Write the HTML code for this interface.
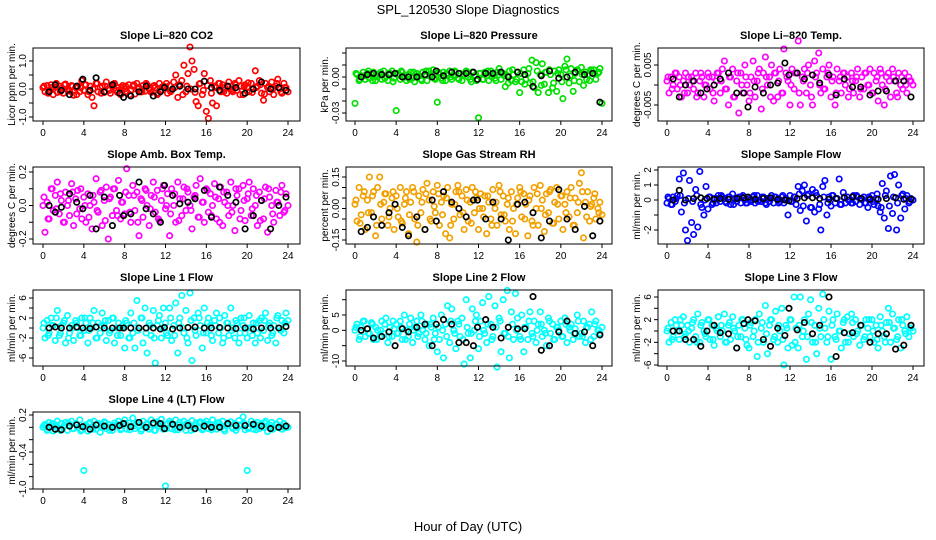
<!DOCTYPE html>
<html><head><meta charset="utf-8"><style>
html,body{margin:0;padding:0;background:#fff;}
svg{display:block;font-family:"Liberation Sans",sans-serif;}
</style></head><body>
<svg id="chart" width="936" height="540" viewBox="0 0 936 540" xmlns="http://www.w3.org/2000/svg">
<rect width="936" height="540" fill="#fff"/>
<text x="468" y="14" text-anchor="middle" font-size="13">SPL_120530  Slope Diagnostics</text>
<text x="468" y="531" text-anchor="middle" font-size="13">Hour of Day (UTC)</text>
</svg>
<script>
const xTicks=[0,4,8,12,16,20,24];
const times=[0,0.2,0.4,0.6,0.8,1,1.2,1.4,1.6,1.8,2,2.2,2.4,2.6,2.8,3,3.2,3.4,3.6,3.8,4,4.2,4.4,4.6,4.8,5,5.2,5.4,5.6,5.8,6,6.2,6.4,6.6,6.8,7,7.2,7.4,7.6,7.8,8,8.2,8.4,8.6,8.8,9,9.2,9.4,9.6,9.8,10,10.2,10.4,10.6,10.8,11,11.2,11.4,11.6,11.8,12,12.2,12.4,12.6,12.8,13,13.2,13.4,13.6,13.8,14,14.2,14.4,14.6,14.8,15,15.2,15.4,15.6,15.8,16,16.2,16.4,16.6,16.8,17,17.2,17.4,17.6,17.8,18,18.2,18.4,18.6,18.8,19,19.2,19.4,19.6,19.8,20,20.2,20.4,20.6,20.8,21,21.2,21.4,21.6,21.8,22,22.2,22.4,22.6,22.8,23,23.2,23.4,23.6,23.8,24];
const times2=[0.1,0.5,0.9,1.3,1.7,2.1,2.5,2.9,3.3,3.7,4.1,4.5,4.9,5.3,5.7,6.1,6.5,6.9,7.3,7.7,8.1,8.5,8.9,9.3,9.7,10.1,10.5,10.9,11.3,11.7,12.1,12.5,12.9,13.3,13.7,14.1,14.5,14.9,15.3,15.7,16.1,16.5,16.9,17.3,17.7,18.1,18.5,18.9,19.3,19.7,20.1,20.5,20.9,21.3,21.7,22.1,22.5,22.9,23.3,23.7];
const blackTimes=[0.6,1.2,1.8,2.6,3.3,3.9,4.6,5.2,6.0,6.8,7.5,7.9,8.6,9.4,10.1,10.8,11.5,11.9,12.7,13.4,14.2,14.9,15.8,16.5,17.3,18.1,18.9,19.8,20.6,21.4,22.3,23.1,23.8];

const co2=[0.05,-0.1,0.12,-0.05,0.15,-0.2,0.08,-0.12,0.1,0.02,-0.15,0.18,0.0,-0.08,0.12,-0.22,0.05,0.1,-0.1,0.3,-0.05,0.15,-0.2,0.1,-0.3,-0.6,0.2,-0.1,0.05,0.1,-0.12,0.25,0.0,-0.15,0.1,0.2,-0.05,0.05,-0.2,0.12,0.0,-0.1,0.15,-0.05,0.1,-0.18,0.2,0.05,-0.1,0.12,-0.08,0.15,0.0,-0.12,0.1,0.05,-0.2,0.2,-0.05,0.1,0.08,-0.15,0.12,-0.05,0.25,0.5,-0.3,0.15,0.3,0.85,-0.1,0.55,1.5,1.0,0.7,-0.45,-0.6,0.2,-0.2,0.55,-0.8,-1.05,0.3,-0.5,0.1,-0.6,0.2,-0.1,0.15,0.05,-0.15,0.25,0.0,-0.1,0.2,-0.05,0.3,0.1,-0.2,0.15,0.05,-0.1,0.2,0.0,0.65,0.1,0.3,-0.15,-0.4,0.2,0.05,-0.1,0.25,-0.2,0.1,0.35,0.0,-0.15,0.2,0.05,-0.1];
const co2B=[0.1,-0.15,0.05,0.2,-0.1,0.15,-0.05,0.1,-0.2,0.05,0.15,-0.1,0.0,0.2,-0.15,0.1,-0.05,0.18,-0.12,0.05,0.1,-0.2,0.15,0.0,-0.1,0.2,-0.05,0.12,-0.15,0.08,0.2,-0.1,0.05,0.15,-0.2,0.1,0.0,-0.12,0.18,-0.05,0.12,-0.15,0.05,0.2,-0.1,0.1,-0.05,0.15,-0.2,0.08,0.22,-0.12,0.05,0.15,-0.18,0.1,0.0,0.2,-0.1,0.05];
const co2Black=[-0.1,0.15,-0.05,-0.2,0.1,0.35,-0.05,0.4,-0.1,0.15,-0.15,-0.3,-0.25,-0.1,0.1,-0.25,-0.1,0.05,0.0,0.1,0.0,0.0,0.28,0.05,-0.05,0.1,0.05,-0.15,0.0,0.25,0.0,0.05,-0.05];

const pressure=[-0.022,0.002,-0.003,0.001,0.004,-0.002,0.003,-0.001,0.002,0.004,-0.003,0.0,0.002,-0.002,0.005,0.001,-0.003,0.003,0.005,-0.001,-0.028,0.003,-0.002,0.004,0.0,-0.003,0.002,0.004,-0.001,-0.004,0.003,0.001,-0.002,0.004,0.002,-0.003,0.005,0.0,0.006,-0.002,-0.021,0.003,-0.001,0.004,-0.003,0.002,0.005,-0.002,0.001,0.004,-0.001,0.003,-0.003,0.002,0.005,0.0,-0.002,0.004,0.001,-0.003,-0.034,0.003,-0.002,0.004,0.001,-0.003,0.005,0.002,-0.001,0.004,0.007,-0.002,0.003,-0.008,0.001,0.005,-0.003,0.002,-0.004,0.004,-0.013,-0.004,0.006,-0.002,0.003,-0.005,0.014,-0.009,0.012,-0.013,0.002,0.011,-0.006,0.004,-0.013,0.002,-0.009,0.005,-0.012,0.006,0.002,-0.018,0.009,0.015,-0.005,0.007,-0.012,0.003,0.006,-0.004,0.008,-0.007,0.004,0.002,-0.003,0.005,0.006,-0.002,0.003,0.007,-0.022];
const pressureB=[0.003,-0.002,0.001,0.005,-0.003,0.002,0.004,-0.001,0.003,-0.004,0.002,0.005,0.0,-0.002,0.004,0.001,-0.003,0.005,0.002,-0.001,0.004,-0.003,0.003,0.0,0.005,-0.002,0.002,0.004,-0.004,0.001,0.003,-0.002,0.005,0.0,-0.003,0.004,0.001,-0.005,0.006,-0.002,0.003,-0.006,0.007,-0.004,0.005,-0.007,0.004,0.006,-0.005,0.003,-0.004,0.006,0.001,-0.003,0.005,0.002,-0.002,0.006,0.003,0.004];
const pressureBlack=[0.0,0.002,0.003,0.002,0.002,0.003,0.0,0.0,0.0,0.002,0.0,0.005,0.001,0.004,0.003,0.003,0.004,-0.002,0.003,0.003,0.004,0.0,0.004,0.002,-0.008,0.001,0.005,-0.001,0.0,0.004,0.002,0.003,-0.021];

const liTemp=[0.001,-0.002,0.002,0.0,0.003,-0.001,0.002,-0.003,0.001,0.003,-0.002,0.0,0.002,-0.001,0.003,-0.002,0.001,0.002,-0.003,0.0,0.003,-0.001,0.002,-0.004,0.001,0.003,-0.002,0.004,0.006,-0.001,-0.005,0.002,0.004,-0.003,0.001,-0.007,0.003,-0.002,0.005,0.0,-0.004,0.002,0.006,-0.003,0.001,0.004,-0.006,0.003,0.007,0.0,0.002,0.005,-0.004,0.003,-0.003,0.004,-0.002,0.009,0.003,0.001,-0.005,0.004,-0.001,0.003,0.011,-0.005,0.002,0.004,-0.002,0.005,0.0,-0.005,0.006,0.003,0.008,-0.002,0.004,-0.001,0.002,0.005,-0.003,0.002,-0.005,0.004,0.001,-0.002,0.003,0.0,0.002,-0.001,0.003,-0.002,0.001,0.004,-0.003,0.002,-0.001,0.003,0.0,0.004,-0.002,0.003,0.001,-0.004,0.004,0.0,-0.005,0.002,0.003,-0.003,0.004,0.001,-0.002,0.003,0.0,-0.001,0.003,-0.002,0.002,0.001,0.0];
const liTempB=[0.002,-0.001,0.003,0.0,-0.002,0.002,0.001,-0.003,0.003,0.0,0.002,-0.002,0.003,0.001,-0.001,0.002,-0.003,0.003,0.0,0.002,-0.002,0.001,0.003,-0.001,0.002,-0.003,0.003,0.001,-0.002,0.002,0.0,0.003,-0.002,0.001,0.003,-0.003,0.002,0.0,-0.001,0.003,0.001,-0.002,0.002,0.003,-0.003,0.001,0.002,-0.001,0.003,0.0,-0.002,0.002,0.003,-0.001,0.001,0.002,-0.003,0.002,0.0,0.001];
const liTempBlack=[0.0015,-0.003,0.0,0.001,-0.002,-0.001,0.0,0.0015,0.003,-0.002,-0.002,-0.0055,-0.0005,-0.002,0.0,0.0005,0.0055,0.0025,0.003,0.0015,0.0025,0.0005,0.0025,-0.0025,0.0015,-0.0005,-0.0005,-0.0025,-0.0015,-0.0015,0.001,0.001,-0.003];

const ambTemp=[0.0,-0.16,0.02,-0.08,0.1,-0.03,0.06,0.14,-0.05,0.03,-0.1,0.08,0.0,-0.06,0.13,-0.12,0.04,0.09,-0.02,-0.08,0.05,-0.1,0.07,0.0,-0.14,0.02,0.16,-0.04,0.08,-0.12,0.03,0.11,-0.2,0.05,-0.06,0.1,-0.03,0.15,-0.08,0.02,-0.05,0.22,0.06,-0.1,0.12,-0.03,0.08,-0.18,0.04,-0.07,0.1,0.0,-0.12,0.06,0.14,-0.04,0.09,-0.09,0.03,0.12,-0.02,0.07,-0.18,0.1,0.0,-0.1,0.14,0.04,-0.06,0.11,-0.03,0.08,0.0,-0.14,0.05,0.12,-0.07,0.16,0.02,-0.1,0.1,-0.04,0.07,0.0,0.13,-0.08,0.04,0.11,-0.12,0.02,0.08,-0.06,0.14,0.0,-0.15,0.06,0.1,-0.03,0.12,-0.09,0.04,0.14,-0.06,0.1,0.0,-0.12,0.08,0.03,-0.08,0.11,-0.16,0.05,0.0,-0.1,0.09,0.02,-0.06,0.12,-0.04,0.07,0.0];
const ambTempB=[0.05,-0.08,0.1,-0.02,0.07,-0.1,0.03,0.08,-0.05,0.1,0.0,-0.07,0.06,-0.03,0.09,-0.09,0.04,0.1,-0.06,0.02,0.08,-0.04,0.06,-0.1,0.03,0.09,-0.02,0.05,-0.08,0.1,0.0,-0.05,0.07,-0.09,0.04,0.1,-0.03,0.06,-0.07,0.02,0.09,-0.06,0.05,-0.1,0.08,0.0,-0.04,0.1,-0.08,0.03,0.07,-0.02,0.06,-0.09,0.04,0.1,-0.05,0.02,0.08,-0.03];
const ambTempBlack=[0.0,-0.04,-0.01,0.07,0.02,-0.02,0.06,-0.14,0.05,-0.12,0.06,-0.06,-0.05,0.14,-0.02,-0.05,-0.1,0.12,0.06,0.01,0.02,0.04,0.09,-0.07,0.11,0.06,0.02,-0.14,-0.06,0.03,-0.14,0.0,0.05];

const gasRH=[0.02,-0.06,0.1,-0.03,0.06,-0.1,0.04,0.15,-0.02,0.08,-0.13,0.1,0.15,-0.05,0.03,0.07,-0.08,0.0,0.05,-0.1,0.06,-0.04,0.1,-0.07,0.02,0.08,-0.12,0.03,0.1,-0.05,-0.16,0.06,-0.02,0.09,-0.1,0.12,0.04,-0.06,0.08,-0.02,0.11,-0.08,0.03,0.06,-0.12,0.1,-0.14,0.02,-0.05,0.08,0.11,-0.03,0.06,-0.1,0.09,-0.06,0.03,0.1,-0.02,0.05,-0.1,0.07,0.0,0.06,-0.12,0.03,-0.05,0.09,0.0,-0.08,0.11,-0.03,0.06,-0.06,0.02,-0.1,0.08,0.0,-0.12,0.05,0.1,-0.04,0.07,0.02,-0.13,0.06,-0.06,0.1,0.0,-0.08,0.11,0.04,-0.11,0.07,-0.02,0.09,-0.07,0.03,0.1,-0.05,0.06,-0.1,0.02,0.08,-0.04,0.1,-0.08,0.05,-0.02,0.12,0.17,-0.14,0.03,0.08,-0.06,0.02,0.05,-0.05,0.0,0.03,-0.03];
const gasRHB=[0.04,-0.07,0.08,-0.02,0.06,-0.08,0.02,0.07,-0.04,0.08,0.0,-0.06,0.05,-0.03,0.08,-0.08,0.03,0.07,-0.05,0.01,0.07,-0.03,0.05,-0.08,0.02,0.08,-0.02,0.04,-0.07,0.08,0.0,-0.04,0.06,-0.08,0.03,0.08,-0.03,0.05,-0.06,0.02,0.08,-0.05,0.04,-0.08,0.07,0.0,-0.03,0.08,-0.07,0.02,0.06,-0.02,0.05,-0.08,0.03,0.08,-0.04,0.01,0.07,-0.02];
const gasRHBlack=[-0.11,-0.09,-0.04,-0.08,-0.02,0.02,-0.09,-0.13,-0.04,-0.1,0.04,-0.06,0.08,0.03,0.0,-0.04,0.04,0.04,-0.05,0.03,-0.05,-0.15,0.02,0.03,-0.02,-0.14,-0.06,0.09,-0.05,-0.1,0.01,-0.13,-0.06];

const sampleFlow=[-0.2,0.1,-0.3,0.2,-0.1,0.3,1.4,-0.8,1.8,-2.0,-2.7,1.3,-1.5,-2.3,0.7,-1.8,1.9,-0.5,-1.0,0.9,-0.6,0.2,-0.3,0.1,-0.2,0.3,-0.1,0.2,0.1,-0.2,0.2,-0.3,0.4,0.1,-0.1,0.2,-0.2,0.3,0.0,-0.2,0.1,-0.1,0.2,-0.2,0.3,0.0,-0.1,0.2,-0.2,0.1,-0.1,0.3,-0.2,0.2,0.0,-0.1,0.2,-0.2,0.1,-1.0,0.3,-0.1,0.2,-0.3,0.9,-0.7,0.6,1.0,-1.4,0.4,-0.5,0.7,-0.8,0.3,-0.6,-2.0,0.9,1.3,-1.0,0.2,-0.4,0.3,-0.2,0.1,1.4,-0.3,0.5,-0.2,0.2,0.0,-0.2,0.3,-0.1,0.2,-0.3,0.1,0.2,-0.2,-0.5,0.1,0.3,-0.3,0.1,-0.4,-0.8,1.1,-1.2,0.6,-1.9,1.6,-0.9,1.7,-2.0,1.0,-1.2,0.4,-0.6,0.3,-0.2,0.1,0.0];
const sampleFlowB=[0.2,-0.3,0.1,0.3,-0.2,0.1,-0.1,0.3,-0.3,0.0,0.2,-0.2,0.1,0.3,-0.1,0.2,-0.3,0.1,0.2,-0.2,0.0,0.3,-0.1,0.2,-0.3,0.1,0.2,-0.2,0.3,0.0,-0.1,0.2,0.4,-0.4,0.3,-0.5,0.5,-0.3,0.2,-0.2,0.3,0.1,-0.3,0.2,0.0,-0.2,0.3,0.1,-0.2,0.2,-0.1,0.4,-0.5,0.3,-0.4,0.2,-0.2,0.3,0.1,-0.1];
const sampleFlowBlack=[0.0,0.65,0.0,0.1,0.15,0.1,0.05,0.1,0.05,0.1,0.15,0.2,0.05,0.1,0.15,0.05,0.0,-0.05,0.1,0.15,0.15,0.1,0.05,0.1,0.15,0.2,0.1,0.05,0.05,0.1,0.15,0.05,0.05];

const line1=[0,-2,1.5,-1,2,0.5,-2.5,3.5,-1.5,0.5,1,-3,2.5,-1,0.5,-2.5,1.5,0,-1.5,2,-0.5,1,-3,2,0,3.5,-2,1,-1,3,0.5,-2.5,1.5,-0.5,2,-3,0,1,-1.5,0.5,-4,1,-2,3,-1,-4,5.5,0,2,-3,4,-5,1,-1.5,3.5,-7,0.5,2.5,-2,4,1,-1.5,4,-2.5,0.5,5,-5,2,6.5,-1,3.5,-3,7,-6.5,2,-1.5,3,0.5,-4,4,-1,2,0.5,-2.5,1.5,3,-1,0,-3,2.5,1,-1.5,4,0,-2,1,-3,2,0.5,-1,-2,2.5,0,1,-3,-1,1.5,2,-0.5,3,-2.5,1,-1.5,0.5,-3,2.5,0,1.5,-1,3,1.5];
const line1B=[1,-1.5,0.5,2,-1,1.5,-2,0,1,-1.5,2,-0.5,1,-2,0.5,1.5,-1,2,-1.5,0,1.5,-2,1,-0.5,2,-1,0.5,-2,1.5,0,-1,2,-1.5,1,0,-2,1.5,-0.5,2,-1,1,-1.5,0.5,2,-2,1,-0.5,1.5,-1,2,0,-1.5,1,-2,1.5,0.5,-1,2,-0.5,1];
const line1Black=[0,0.2,0,0,0.2,0,-0.1,0.2,0,0,0,0,0,0,0,0,-0.2,0.1,-0.2,0,0.1,0.2,0,0,0.1,0,-0.1,0,-0.2,0,0,0,0.3];

const line2=[0,2,-3,1,3,-2,0.5,-1,2.5,-3,1,0,-2,3,-1,4,-4,1,-2,0.5,2,-1,3,-3,5,0,-2,4,-4,1,3,-1,5,0,-3,2,-5,1,4,-1,-7,-3,5,-9,2,8,-4,7,0,-6,3,-2,4,-11,10,-1,-9,7,0,5,-6,3,9,-1,-4,11,2,-2,8,-12,4,-7,10,-1,13,-9,6,-3,12,4,-2,5,-7,1,-3,6,-1,3,-4,2,6,-2,0,-5,4,-1,2,-3,1,0,3,-2,4,-4,1,2,-3,0.5,5,-2,-1,3,-4,1,2,6,-2,3,0,-1,1];
const line2B=[1,-2,3,-1,2,-3,0,2,-2,3,-1,1,-3,2,0,-2,3,-1,2,-3,1,0,-2,3,-1,2,-3,1,-1,3,-2,0,2,-3,1,3,-1,-2,2,0,-3,1,3,-2,0,2,-1,3,-3,1,-2,2,0,-1,3,-2,1,-3,2,0];
const line2Black=[0,0.5,-2.5,-2,-0.5,-5,0.5,-0.5,1,2,-5,2,3.5,2,-4,-4,-5,1,3.5,1,-2.5,1,0.5,0.5,11,-6.5,-5,-0.5,3,-1,-0.5,-5,-1.5];

const line3=[0,-2,1.5,-1,2,0,-1.5,1,2.5,-0.5,1,-2,0.5,2,-1,3,-2,1.5,0,-1,2,-1.5,1,-2.5,0.5,2.5,-1,0,3,-2,1,-1.5,2.5,0,-3,1,-1,2,0.5,-2.5,-3,1.5,-1,2,-4.5,3,0.5,-2,4.5,-4,1,2,-1.5,3.5,-2,0,4,-6,1,-3,2,-2.5,6,0.5,-3,6,-1,2,-5,3,5.5,-2,1,-4,4,-1,6.5,0.5,-2,3.5,-5,2,-1,3,0,-3,1.5,-2,2.5,-0.5,3,-1,2,0,-2.5,1,-1.5,2,0.5,-1,2,-2,1,-3,2.5,0,-1,1.5,4,-2,3,0.5,-1.5,2,-3,1,0,2.5,-1,0.5,0];
const line3B=[0.5,-1.5,1,2,-1,0,1.5,-2,1,-0.5,2,-1.5,0,1,-2,1.5,0.5,-1,2,-1.5,1,0,-2,1.5,-0.5,2,-1,1,-1.5,0.5,2,-2,1,0,-1,1.5,-2,0.5,2,-1,1,-1.5,0,2,-2,1.5,-0.5,1,-1,2,0,-1.5,1,-2,1.5,0.5,-1,2,-0.5,0.5];
const line3Black=[0,0,-1.5,-1.5,-2.7,0,1,-0.3,-0.5,-3,1.3,2,1.8,-1.5,-2.7,0.5,-0.8,4,0.2,1.5,-0.5,1,6,-4.5,-0.3,-0.3,1,-2,-0.5,-0.5,-3.2,-2.5,1];

const line4=[0,0.05,-0.05,0.08,0.02,-0.06,0.04,0.1,-0.03,0.06,0.0,0.08,-0.05,0.03,0.1,-0.02,0.06,0.0,0.12,-0.04,-0.7,0.04,-0.06,0.08,0.0,0.1,-0.03,0.06,-0.08,0.03,0.09,-0.02,0.05,0.0,-0.05,0.07,0.02,0.1,-0.04,0.06,0.12,-0.03,0.07,0.01,0.15,-0.02,0.08,0.03,-0.06,0.1,0.0,0.06,-0.03,0.12,0.04,-0.05,0.09,0.02,0.13,-0.03,-0.95,0.06,0.1,-0.02,0.05,0.12,-0.04,0.08,0.0,0.1,-0.05,0.06,0.02,0.11,-0.03,0.07,0.0,0.09,-0.04,0.06,0.1,-0.02,0.05,0.12,0.0,-0.03,0.08,0.03,0.1,-0.06,0.04,0.04,0.09,-0.02,0.06,0.0,0.11,0.03,0.17,-0.04,-0.7,0.0,0.1,-0.03,0.05,0.08,-0.02,0.06,0.0,0.1,-0.07,0.04,0.08,-0.02,0.05,0.0,0.1,-0.03,0.06,0.02,0.0];
const line4B=[0.03,-0.04,0.06,0.0,-0.05,0.04,0.07,-0.02,0.05,-0.06,0.02,0.06,-0.03,0.04,0.0,0.07,-0.05,0.03,0.05,-0.02,0.06,-0.04,0.02,0.07,-0.03,0.05,0.0,-0.05,0.06,0.02,-0.02,0.07,-0.04,0.04,0.0,0.06,-0.05,0.03,0.07,-0.02,0.05,-0.04,0.02,0.06,-0.03,0.07,0.0,-0.05,0.04,0.06,-0.02,0.05,-0.04,0.03,0.07,0.0,-0.03,0.05,0.02,-0.01];
const line4Black=[0,-0.03,-0.04,0.02,0.04,0.01,-0.03,0.04,0.02,0.0,0.03,0.06,0.01,0.08,0.0,0.07,0.06,-0.02,0.05,0.0,0.03,-0.02,0.02,0.0,0.0,0.06,0.03,0.03,0.05,0.02,-0.02,0.0,0.02];

const titles=["Slope Li\u2013820 CO2","Slope Li\u2013820 Pressure","Slope Li\u2013820 Temp.","Slope Amb. Box Temp.","Slope Gas Stream RH","Slope Sample Flow","Slope Line 1 Flow","Slope Line 2 Flow","Slope Line 3 Flow","Slope Line 4 (LT) Flow"];
const yTitles=["Licor ppm per min.","kPa per min.","degrees C per min.","degrees C per min.","percent per min.","ml/min per min.","ml/min per min.","ml/min per min.","ml/min per min.","ml/min per min."];

const NS="http://www.w3.org/2000/svg";
const svg=document.getElementById('chart');
function mk(tag,attrs,parent){const e=document.createElementNS(NS,tag);for(const k in attrs)e.setAttribute(k,attrs[k]);(parent||svg).appendChild(e);return e;}

const cols=[{bl:33,br:300,x0:43,x24:288,yt:7},{bl:346,br:612,x0:355,x24:602,yt:320},{bl:658,br:924,x0:667,x24:913,yt:632}];
const rows=[{top:48,bot:121},{top:167,bot:244},{top:290,bot:366},{top:412,bot:489}];
const panels=[
 {col:0,row:0,vals:co2,vals2:co2B,blk:co2Black,color:"#ff0000",a:[1,61],b:[-1,117],ticks:[-1,-0.5,0,0.5,1],labels:{"-1":"-1.0","0":"0.0","1":"1.0"},name:"co2"},
 {col:1,row:0,vals:pressure,vals2:pressureB,blk:pressureBlack,color:"#00e000",a:[0,77],b:[-0.03,113],ticks:[-0.03,-0.02,-0.01,0,0.01,0.02],labels:{"0":"0.00","-0.03":"-0.03"},name:"pressure"},
 {col:2,row:0,vals:liTemp,vals2:liTempB,blk:liTempBlack,color:"#ff00ff",a:[0.005,65],b:[-0.005,105],ticks:[-0.005,0,0.005],labels:{"0.005":"0.005","-0.005":"-0.005"},name:"li-temp"},
 {col:0,row:1,vals:ambTemp,vals2:ambTempB,blk:ambTempBlack,color:"#ff00ff",a:[0.2,172],b:[-0.2,239],ticks:[-0.2,-0.1,0,0.1,0.2],labels:{"0.2":"0.2","0":"0.0","-0.2":"-0.2"},name:"amb-temp"},
 {col:1,row:1,vals:gasRH,vals2:gasRHB,blk:gasRHBlack,color:"#f2a000",a:[0.15,177],b:[-0.15,240],ticks:[-0.15,-0.1,-0.05,0,0.05,0.1,0.15],labels:{"0.15":"0.15","0":"0.00","-0.15":"-0.15"},name:"gas-rh"},
 {col:2,row:1,vals:sampleFlow,vals2:sampleFlowB,blk:sampleFlowBlack,color:"#0000ff",a:[2,170],b:[-2,230],ticks:[-2,-1,0,1,2],labels:{"2":"2","1":"1","0":"0","-2":"-2"},name:"sample-flow"},
 {col:0,row:2,vals:line1,vals2:line1B,blk:line1Black,color:"#00ffff",a:[6,298],b:[-6,358],ticks:[-6,-4,-2,0,2,4,6],labels:{"6":"6","2":"2","-2":"-2","-6":"-6"},name:"line1"},
 {col:1,row:2,vals:line2,vals2:line2B,blk:line2Black,color:"#00ffff",a:[5,315],b:[-10,361],ticks:[-10,-5,0,5,10],labels:{"5":"5","0":"0","-10":"-10"},name:"line2"},
 {col:2,row:2,vals:line3,vals2:line3B,blk:line3Black,color:"#00ffff",a:[6,297],b:[-6,365],ticks:[-6,-4,-2,0,2,4,6],labels:{"6":"6","2":"2","-2":"-2","-6":"-6"},name:"line3"},
 {col:0,row:3,vals:line4,vals2:line4B,blk:line4Black,color:"#00ffff",a:[0.2,415],b:[-1.0,489],ticks:[0.2,0,-0.2,-0.4,-0.6,-0.8,-1.0],labels:{"0.2":"0.2","-0.4":"-0.4","-1":"-1.0"},name:"line4"}
];

panels.forEach((p,i)=>{
  const c=cols[p.col],r=rows[p.row];
  const g=mk('g',{});
  
  
  const xs=t=>c.x0+(c.x24-c.x0)*t/24;
  const ys=v=>p.a[1]+(p.b[1]-p.a[1])*(v-p.a[0])/(p.b[0]-p.a[0]);
  const t=mk('text',{x:(c.bl+c.br)/2,y:r.top-9,'text-anchor':'middle','font-size':'11','font-weight':'bold'},g);
  t.textContent=titles[i];
  
  
  const yt=mk('text',{transform:`translate(${c.yt+8},${(r.top+r.bot)/2}) rotate(-90)`,'text-anchor':'middle','font-size':'10'},g);
  yt.textContent=yTitles[i];
  
  
  const pts=mk('g',{fill:'none',stroke:p.color,'stroke-width':'1.7'},g);
  
  
  p.vals.forEach((v,k)=>{
    const cc=mk('circle',{cx:xs(times[k]).toFixed(1),cy:ys(v).toFixed(1),r:2.7},pts);
    
    
  });
  p.vals2.forEach((v,k)=>{
    const cc=mk('circle',{cx:xs(times2[k]).toFixed(1),cy:ys(v).toFixed(1),r:2.7},pts);
    
    
  });
  const bp=mk('g',{fill:'none',stroke:'#000','stroke-width':'1.7'},g);
  
  
  p.blk.forEach((v,k)=>{
    const cc=mk('circle',{cx:xs(blackTimes[k]).toFixed(1),cy:ys(v).toFixed(1),r:2.7},bp);
    
    
  });
  const bx=mk('rect',{x:c.bl,y:r.top,width:c.br-c.bl,height:r.bot-r.top,fill:'none',stroke:'#000','stroke-width':'1'},g);
  
  
  xTicks.forEach(v=>{
    const x=xs(v);
    mk('line',{x1:x,x2:x,y1:r.bot,y2:r.bot+4,stroke:'#000'},g);
    const l=mk('text',{x:x,y:r.bot+15,'text-anchor':'middle','font-size':'10'},g);
    l.textContent=String(v);
    
    
  });
  p.ticks.forEach(v=>{
    const y=ys(v);
    mk('line',{x1:c.bl-4,x2:c.bl,y1:y,y2:y,stroke:'#000'},g);
    const key=String(v);
    if(p.labels[key]!==undefined){
      const l=mk('text',{transform:`translate(${c.bl-7},${y}) rotate(-90)`,'text-anchor':'middle','font-size':'10'},g);
      l.textContent=p.labels[key];
      
      
    }
  });
});
</script>
</body></html>
